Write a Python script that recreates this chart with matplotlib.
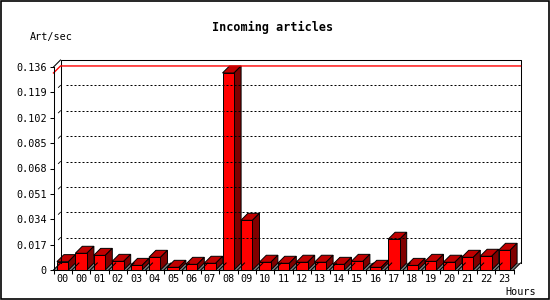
import matplotlib
matplotlib.use("Agg")
import matplotlib.pyplot as plt
from matplotlib.patches import Polygon, Rectangle
import numpy as np

# hourly incoming articles (art/sec), first "00" is the previous day's hour
hours = ['00', '00', '01', '02', '03', '04', '05', '06', '07', '08', '09', '10',
         '11', '12', '13', '14', '15', '16', '17', '18', '19', '20', '21', '22', '23']
rates = [0.0056, 0.0112, 0.0098, 0.0058, 0.0031, 0.0085, 0.0018, 0.0038, 0.0045,
         0.1320, 0.0333, 0.0052, 0.0045, 0.0052, 0.0052, 0.0038, 0.0058, 0.0018,
         0.0206, 0.0031, 0.0058, 0.0052, 0.0085, 0.0092, 0.0132]
yticks = [0, 0.017, 0.034, 0.051, 0.068, 0.085, 0.102, 0.119, 0.136]

W, H = 550, 300
fig = plt.figure(figsize=(W / 100, H / 100), dpi=100)
plt.rcParams['font.family'] = ['DejaVu Sans Mono']

# front plane of the pseudo 3d box, in pixels
x0, x1 = 53.5, 513.5
y0, y1 = 270, 67
ax = fig.add_axes([x0 / W, (H - y0) / H, (x1 - x0) / W, (y0 - y1) / H])
n = len(hours)
ymax = yticks[-1]
ax.set_xlim(0, n)
ax.set_ylim(0, ymax)

# depth of the box, 7px converted to data units
DX = 7 * n / (x1 - x0)
DY = 7 * ymax / (y0 - y1)

ax.spines['top'].set_visible(False)
ax.spines['right'].set_visible(False)
for s in ['left', 'bottom']:
    ax.spines[s].set_linewidth(0.75)

ax.set_yticks(yticks)
ax.set_yticklabels(['0' if v == 0 else '%.3f' % v for v in yticks])
ax.set_xticks(np.arange(n + 1))
ax.set_xticklabels([])
ax.set_xticks(np.arange(n) + 0.5, minor=True)
ax.set_xticklabels(hours, minor=True)
ax.tick_params(axis='both', which='major', length=3, width=0.75, labelsize=7.3, pad=2)
ax.tick_params(axis='x', which='minor', length=0, labelsize=7.3, pad=3)

kw = dict(clip_on=False)
# back walls
ax.plot([DX, DX, n + DX, n + DX], [DY, ymax + DY, ymax + DY, DY], color='black', lw=0.75, **kw)
ax.plot([0, DX], [ymax, ymax + DY], color='black', lw=0.75, **kw)
for v in yticks[1:-1]:
    ax.plot([DX + 0.3, n + DX], [v + DY, v + DY], color='black', lw=0.72,
            linestyle=(0, (2, 2)), **kw)
    ax.plot([0.7 * DX, DX], [v + 0.7 * DY, v + DY], color='black', lw=0.6, **kw)

# max line
vmax = max(rates)
ax.plot([0, DX, n + DX], [vmax, vmax + DY, vmax + DY], color='red', lw=1.0, **kw)

# floor
ax.add_patch(Polygon([[0, 0], [n, 0], [n + DX, DY], [DX, DY]], closed=True,
                     facecolor='#808080', edgecolor='none', **kw))
for i in range(n + 1):
    ax.plot([i, i + DX], [0, DY], color='black', lw=0.75, **kw)

# bars
bw = 0.63
for i, v in enumerate(rates):
    left = i + 0.5 - bw / 2
    right = left + bw
    ax.add_patch(Polygon([[left, v], [right, v], [right + DX, v + DY], [left + DX, v + DY]],
                         closed=True, facecolor='#c00000', edgecolor='black', lw=0.7, **kw))
    ax.add_patch(Polygon([[right, 0], [right + DX, DY], [right + DX, v + DY], [right, v]],
                         closed=True, facecolor='#800000', edgecolor='black', lw=0.7, **kw))
    ax.bar(i + 0.5, v, width=bw, color='red', edgecolor='black', lw=0.7, clip_on=False)

fig.text(273 / W, 1 - 27 / H, 'Incoming articles', ha='center', va='center',
         fontsize=8.5, fontweight='bold')
fig.text(30 / W, 1 - 37 / H, 'Art/sec', ha='left', va='center', fontsize=7.3)
fig.text(505 / W, 1 - 292 / H, 'Hours', ha='left', va='center', fontsize=7.3)

# outer frame
fig.patches.append(Rectangle((0.5 / W, 1.5 / H), 548 / W, 297.5 / H, transform=fig.transFigure,
                             fill=False, edgecolor='black', lw=1.2))

fig.savefig('out.png', dpi=100)
